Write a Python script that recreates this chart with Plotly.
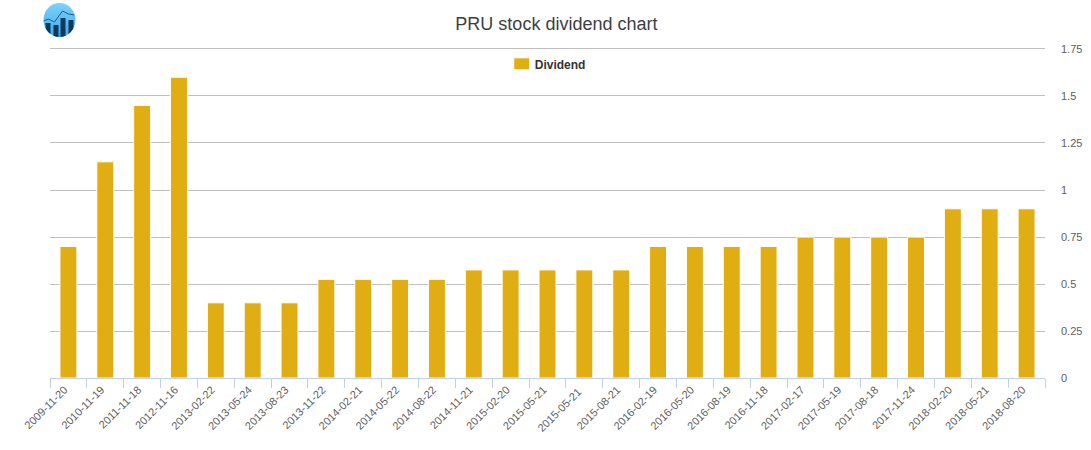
import base64
import plotly.graph_objects as go

dates = ["2009-11-20","2010-11-19","2011-11-18","2012-11-16","2013-02-22","2013-05-24","2013-08-23",
         "2013-11-22","2014-02-21","2014-05-22","2014-08-22","2014-11-21","2015-02-20","2015-05-21",
         "2015-05-21 ","2015-08-21","2016-02-19","2016-05-20","2016-08-19","2016-11-18","2017-02-17",
         "2017-05-19","2017-08-18","2017-11-24","2018-02-20","2018-05-21","2018-08-20"]
dividends = [0.70,1.15,1.45,1.60,0.40,0.40,0.40,0.525,0.525,0.525,0.525,0.575,0.575,0.575,0.575,0.575,
             0.70,0.70,0.70,0.70,0.75,0.75,0.75,0.75,0.90,0.90,0.90]
y_ticks = [0,0.25,0.5,0.75,1,1.25,1.5,1.75]
y_labels = ["0","0.25","0.5","0.75","1","1.25","1.5","1.75"]
FONT = "Liberation Sans, Arial, sans-serif"

logo_svg = """<svg xmlns='http://www.w3.org/2000/svg' width='34' height='36' viewBox='0 0 34 36'>
<defs><linearGradient id='g' x1='0' y1='0' x2='0' y2='1'>
<stop offset='0' stop-color='#7CD2FB'/><stop offset='1' stop-color='#3FA9E8'/></linearGradient>
<clipPath id='c'><ellipse cx='17' cy='18' rx='16' ry='17'/></clipPath></defs>
<ellipse cx='17' cy='18' rx='16' ry='17' fill='url(#g)'/>
<g clip-path='url(#c)'>
<rect x='3' y='21' width='5' height='15' fill='#0C3A5C'/>
<rect x='11' y='23' width='5' height='13' fill='#0C3A5C'/>
<rect x='18' y='16' width='5' height='20' fill='#0C3A5C'/>
<rect x='26' y='18' width='5' height='18' fill='#0C3A5C'/>
<polyline points='1,19 6,17 12,20 20,9 26,12 32,13' fill='none' stroke='#1E5F8C' stroke-width='1'/>
</g></svg>"""
logo_uri = "data:image/svg+xml;base64," + base64.b64encode(logo_svg.encode()).decode()

post = """
document.body.style.margin='0';
var g=document.querySelector('.legend .traces');
if(g){
  g.querySelectorAll('.legendpoints path').forEach(function(p){p.setAttribute('d','M10,6H-6V-6H10Z');});
  g.querySelectorAll('.legendtext').forEach(function(t){t.setAttribute('x','35');});
}
"""

fig = go.Figure(go.Bar(x=dates, y=dividends, name="<b>Dividend</b>",
                       marker=dict(color="#E0AE12", line=dict(color="#ffffff", width=1)),
                       showlegend=True))
fig.update_layout(
    width=1091, height=450, autosize=False,
    paper_bgcolor="white", plot_bgcolor="white",
    margin=dict(l=49.5, r=45.5, t=47, b=72),
    bargap=0.54,
    font=dict(family=FONT, color="#606060", size=11),
    title=dict(text="PRU stock dividend chart", x=0.51, xanchor="center", y=0.947, yanchor="middle",
               font=dict(family=FONT, size=18, color="#3E3E40")),
    legend=dict(orientation="h", x=0.452, y=0.993, xanchor="left", yanchor="top",
                bgcolor="rgba(0,0,0,0)", font=dict(family=FONT, size=12, color="#333333")),
    xaxis=dict(type="category", tickson="boundaries", ticks="outside", ticklen=9, tickcolor="#C0D0E0",
               tickwidth=1, showline=True, linecolor="#C0D0E0", linewidth=1, showgrid=False,
               tickangle=-45, tickfont=dict(size=11, color="#606060"), automargin=False,
               ticklabelshift=-4, categoryorder="array", categoryarray=dates),
    yaxis=dict(side="right", range=[0,1.7606], tickmode="array", tickvals=y_ticks, ticktext=y_labels,
               gridcolor="#C0C0C0", gridwidth=1, zeroline=False, showline=False, ticks="",
               ticklabelstandoff=15, ticklabelshift=0, tickfont=dict(size=11, color="#606060"), automargin=False),
    images=[dict(source=logo_uri, xref="paper", yref="paper", xanchor="left", yanchor="top",
                 x=(42-49.5)/996, y=1+(47-2)/331, sizex=34/996, sizey=36/331, sizing="stretch", layer="above")],
)
fig.write_html("out.html", post_script=post, config=dict(displayModeBar=False))
